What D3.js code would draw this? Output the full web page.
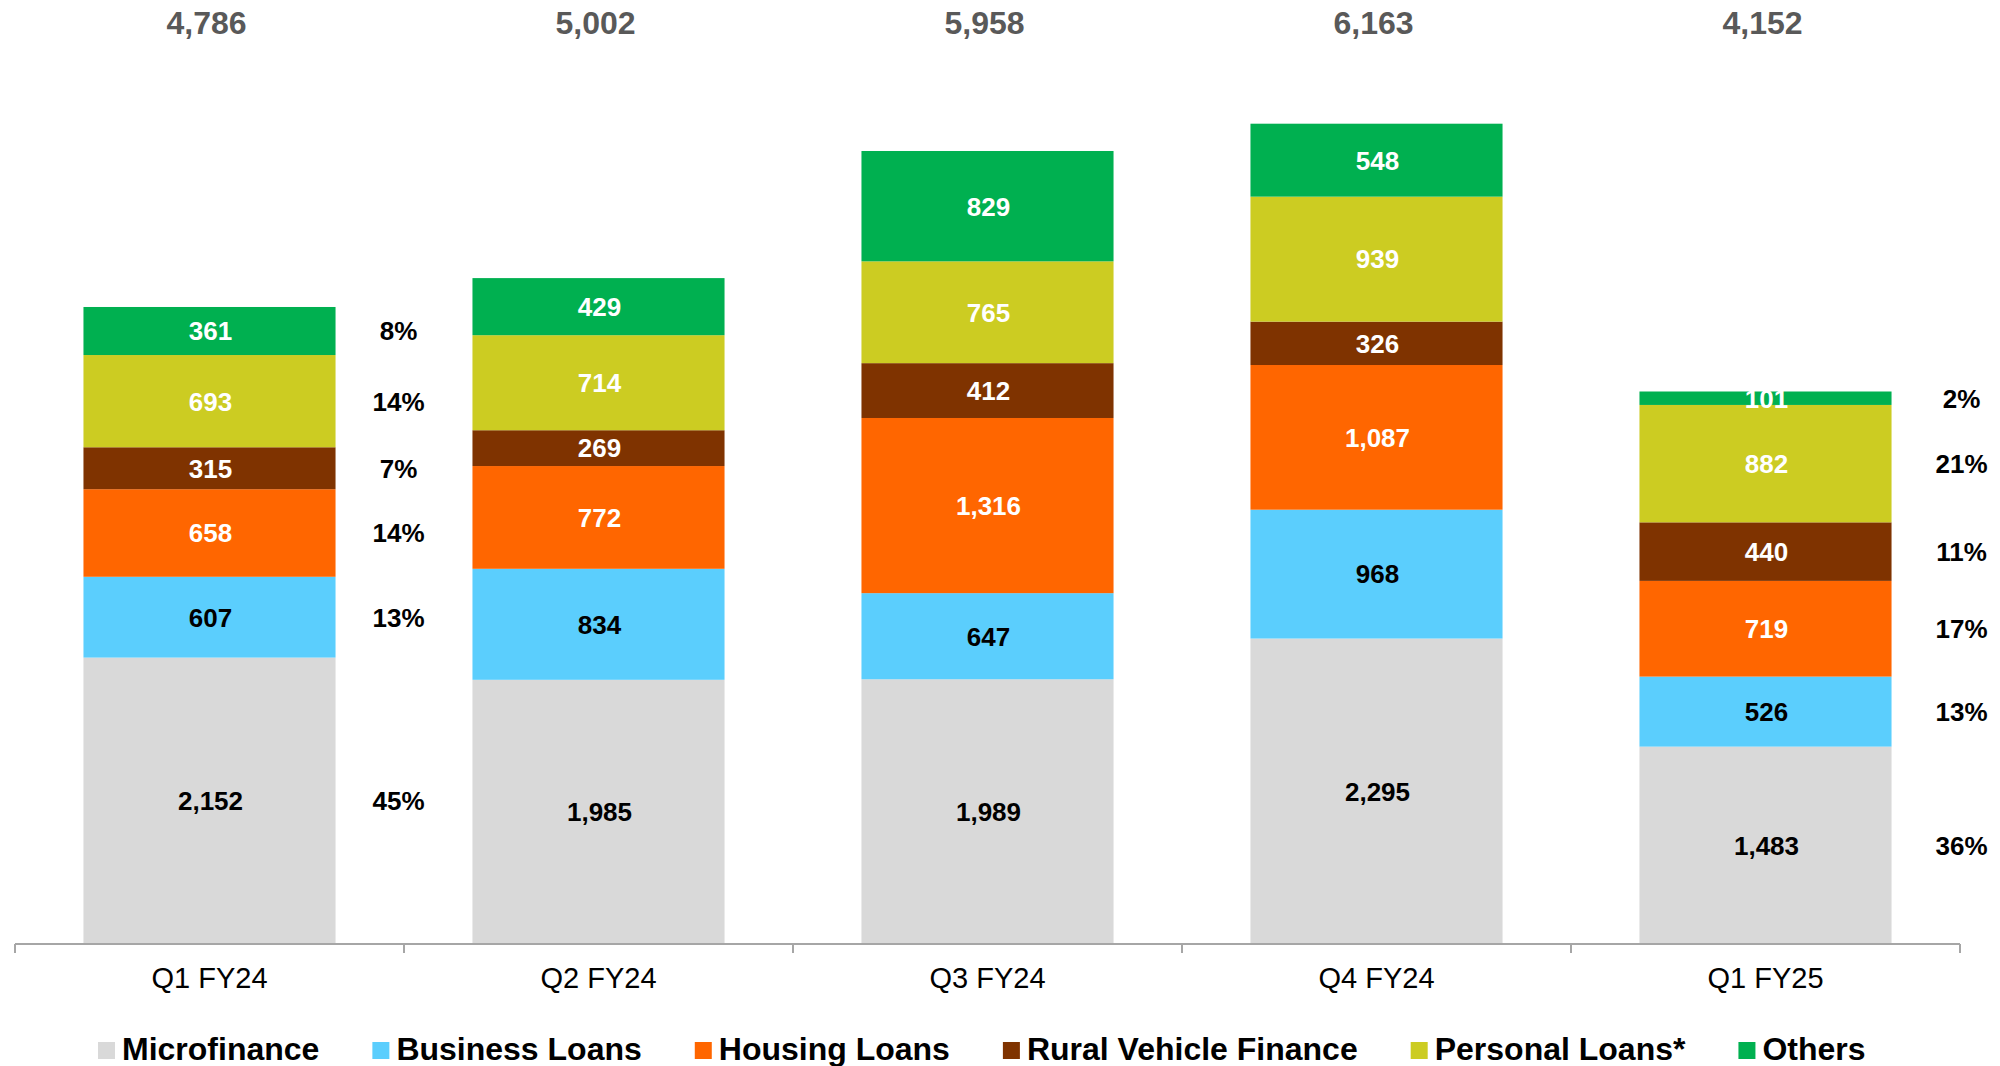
<!DOCTYPE html>
<html>
<head>
<meta charset="utf-8">
<script src="https://cdn.jsdelivr.net/npm/d3@7"></script>
<style>
  body { margin: 0; background: #fff; }
  svg { display: block; font-family: "Liberation Sans", Arial, sans-serif; }
</style>
</head>
<body>
<svg id="chart" width="2000" height="1066"></svg>
<script>
var quarters = ["Q1 FY24", "Q2 FY24", "Q3 FY24", "Q4 FY24", "Q1 FY25"];
var seriesNames = ["Microfinance", "Business Loans", "Housing Loans", "Rural Vehicle Finance", "Personal Loans*", "Others"];
var seriesColors = ["#d9d9d9", "#5bcefd", "#ff6600", "#7f3300", "#cccc22", "#00b050"];
var labelColors = ["#000", "#000", "#fff", "#fff", "#fff", "#fff"];

var microfinance = [2152, 1985, 1989, 2295, 1483];
var businessLoans = [607, 834, 647, 968, 526];
var housingLoans = [658, 772, 1316, 1087, 719];
var ruralVehicle = [315, 269, 412, 326, 440];
var personalLoans = [693, 714, 765, 939, 882];
var others = [361, 429, 829, 548, 101];
var totals = [4786, 5002, 5958, 6163, 4152];

// share labels shown beside the first and last bar only
var shareFirst = ["45%", "13%", "14%", "7%", "14%", "8%"];
var shareLast = ["36%", "13%", "17%", "11%", "21%", "2%"];

var seriesValues = [microfinance, businessLoans, housingLoans, ruralVehicle, personalLoans, others];

var rows = quarters.map(function(q, i) {
  var r = { quarter: q };
  seriesNames.forEach(function(s, j) { r[s] = seriesValues[j][i]; });
  return r;
});

var stacked = d3.stack().keys(seriesNames)(rows);

var svg = d3.select("#chart");
var baseY = 944;

var x = d3.scaleBand()
  .domain(quarters)
  .range([15, 1960])
  .paddingInner(0.352)
  .paddingOuter(0.176);

var y = d3.scaleLinear()
  .domain([0, 7000])
  .range([baseY, baseY - 7000 * 0.1331]);

var fmt = d3.format(",");

// bars
var layer = svg.append("g").selectAll("g")
  .data(stacked)
  .enter().append("g")
  .attr("fill", function(d, i) { return seriesColors[i]; });

layer.selectAll("rect")
  .data(function(d) { return d; })
  .enter().append("rect")
  .attr("x", function(d) { return x(d.data.quarter); })
  .attr("width", x.bandwidth())
  .attr("y", function(d) { return y(d[1]); })
  .attr("height", function(d) { return y(d[0]) - y(d[1]); });

// value labels inside segments
stacked.forEach(function(s, i) {
  svg.append("g").selectAll("text")
    .data(s)
    .enter().append("text")
    .attr("x", function(d) { return x(d.data.quarter) + x.bandwidth() / 2 + 1; })
    .attr("y", function(d) { return y((d[0] + d[1]) / 2); })
    .attr("dy", "0.36em")
    .attr("text-anchor", "middle")
    .attr("font-size", 26)
    .attr("font-weight", "bold")
    .attr("fill", labelColors[i])
    .text(function(d) { return fmt(d[1] - d[0]); });
});

// share labels
function shareLabels(qi, labels, offset) {
  var q = quarters[qi];
  var cx = x(q) + x.bandwidth() + offset;
  svg.append("g").selectAll("text")
    .data(labels)
    .enter().append("text")
    .attr("x", cx)
    .attr("y", function(d, j) { var seg = stacked[j][qi]; return y((seg[0] + seg[1]) / 2); })
    .attr("dy", "0.36em")
    .attr("text-anchor", "middle")
    .attr("font-size", 26)
    .attr("font-weight", "bold")
    .attr("fill", "#000")
    .text(function(d) { return d; });
}
shareLabels(0, shareFirst, 63);
shareLabels(4, shareLast, 70);

// totals on top
svg.append("g").selectAll("text")
  .data(totals)
  .enter().append("text")
  .attr("x", function(d, i) { return x(quarters[i]) + x.bandwidth() / 2 - 3; })
  .attr("y", 34)
  .attr("text-anchor", "middle")
  .attr("font-size", 32)
  .attr("font-weight", "bold")
  .attr("fill", "#595959")
  .text(function(d) { return fmt(d); });

// x axis: labels centred, ticks on band boundaries
var axis = svg.append("g").attr("transform", "translate(0," + baseY + ")");
axis.call(d3.axisBottom(x).tickSize(0).tickPadding(23))
  .call(function(g) { g.select(".domain").remove(); })
  .selectAll("text")
  .attr("font-size", 29)
  .attr("font-family", "\"Liberation Sans\", Arial, sans-serif")
  .attr("fill", "#000");

var edges = quarters.map(function(q) { return x(q) - x.step() * x.paddingInner() / 2; });
edges.push(x.range()[1]);
axis.append("line")
  .attr("x1", x.range()[0]).attr("x2", x.range()[1])
  .attr("stroke", "#a6a6a6").attr("stroke-width", 2);
axis.selectAll(".edge")
  .data(edges)
  .enter().append("line")
  .attr("class", "edge")
  .attr("x1", function(d) { return d; }).attr("x2", function(d) { return d; })
  .attr("y1", 0).attr("y2", 9)
  .attr("stroke", "#a6a6a6").attr("stroke-width", 2);

// legend
var legend = svg.append("g");
var lx = 98;
seriesNames.forEach(function(name, i) {
  legend.append("rect")
    .attr("x", lx).attr("y", 1042)
    .attr("width", 17).attr("height", 17)
    .attr("fill", seriesColors[i]);
  var t = legend.append("text")
    .attr("x", lx + 24).attr("y", 1060)
    .attr("font-size", 32)
    .attr("font-weight", "bold")
    .attr("fill", "#000")
    .text(name);
  lx += 24 + t.node().getComputedTextLength() + 53;
});
</script>
</body>
</html>
